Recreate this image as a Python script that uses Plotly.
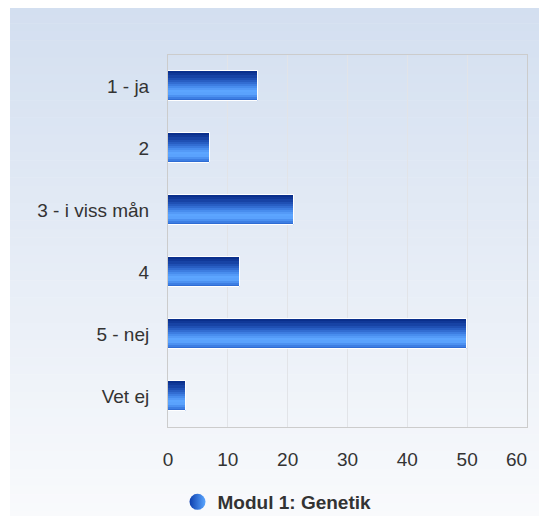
import plotly.graph_objects as go

categories = ["1 - ja", "2", "3 - i viss mån", "4", "5 - nej", "Vet ej"]
values = [15, 7, 21, 12, 50, 3]
x_ticks = [0, 10, 20, 30, 40, 50, 60]
x_tick_labels = ["0", "10", "20", "30", "40", "50", "60\u00a0\u00a0\u00a0\u00a0"]
series_name = "Modul 1: Genetik"

# vertical gradient bands for the bars (top -> bottom)
band_colors = ["#0a2f8c", "#103898", "#1743a5", "#1f50b4", "#285ec3", "#326dd2",
               "#3d7de1", "#488dee", "#549af7", "#5ca5ff", "#5aa2fd", "#4c91f1",
               "#3d7ee3", "#2f6cd4"]

OFF = 8  # page body margin
FW, FH = 547 - OFF, 516 - OFF
W = 0.48
fig = go.Figure()
n = len(band_colors)
h = W / n
for i, c in enumerate(band_colors):
    fig.add_trace(go.Bar(
        x=values, y=categories, orientation="h",
        width=h * 1.05, offset=-W / 2 + i * h,
        marker=dict(color=c, line=dict(width=0)),
        showlegend=False, hoverinfo="skip"))
# white outline
fig.add_trace(go.Bar(
    x=values, y=categories, orientation="h", width=W,
    marker=dict(color="rgba(0,0,0,0)", line=dict(color="white", width=1)),
    showlegend=False, hoverinfo="skip"))
# legend entry
fig.add_trace(go.Scatter(
    x=[None], y=[None], mode="markers", name=series_name,
    marker=dict(symbol="circle", size=18, color="#0d3fae",
                gradient=dict(type="horizontal", color="#5aa6ff"))))

# plot area in figure pixels
L, R, T, B = 168 - OFF, 527 - OFF, 55 - OFF, 427 - OFF
pw, ph = R - L, B - T
def px(x): return (x - OFF - L) / pw
def py(y): return (B - (y - OFF)) / ph
shapes = []
top_c = (211, 223, 240)
bot_c = (249, 250, 252)
y_start, y_end = 6, 520
steps = 60
for k in range(steps):
    t = k / (steps - 1)
    col = tuple(int(round(top_c[j] + (bot_c[j] - top_c[j]) * t)) for j in range(3))
    y0 = y_start + (y_end - y_start) * k / steps
    y1 = y_start + (y_end - y_start) * (k + 1) / steps + 0.5
    shapes.append(dict(type="rect", xref="paper", yref="paper", layer="below",
                       x0=px(10), x1=px(560), y0=py(y1), y1=py(y0),
                       fillcolor="rgb(%d,%d,%d)" % col, line=dict(width=0)))

FONT = "Liberation Sans, Arial, sans-serif"
fig.update_layout(
    width=FW, height=FH,
    margin=dict(l=L, r=FW - R, t=T, b=FH - B, autoexpand=False),
    paper_bgcolor="white", plot_bgcolor="rgba(0,0,0,0)",
    barmode="overlay", bargap=0,
    font=dict(family=FONT, size=19, color="#333333"),
    shapes=shapes,
    showlegend=True,
    legend=dict(orientation="h", x=px(277), xanchor="center", y=py(502), yanchor="middle",
                font=dict(size=19, color="#333333", family=FONT, weight="bold"),
                bgcolor="rgba(0,0,0,0)"),
    xaxis=dict(range=[0, 60], tickvals=x_ticks, ticktext=x_tick_labels, showgrid=True,
               gridcolor="#e2e4e8", gridwidth=1, zeroline=False, showline=True,
               linecolor="#cccccc", mirror=True, ticklabeloverflow="allow",
               ticks="", ticklabelstandoff=15, fixedrange=True),
    yaxis=dict(categoryorder="array", categoryarray=categories, autorange="reversed",
               showgrid=False, zeroline=False, showline=True, linecolor="#cccccc", mirror=True,
               ticks="", ticklabelstandoff=14, fixedrange=True),
)

fig.write_html("out.html")
